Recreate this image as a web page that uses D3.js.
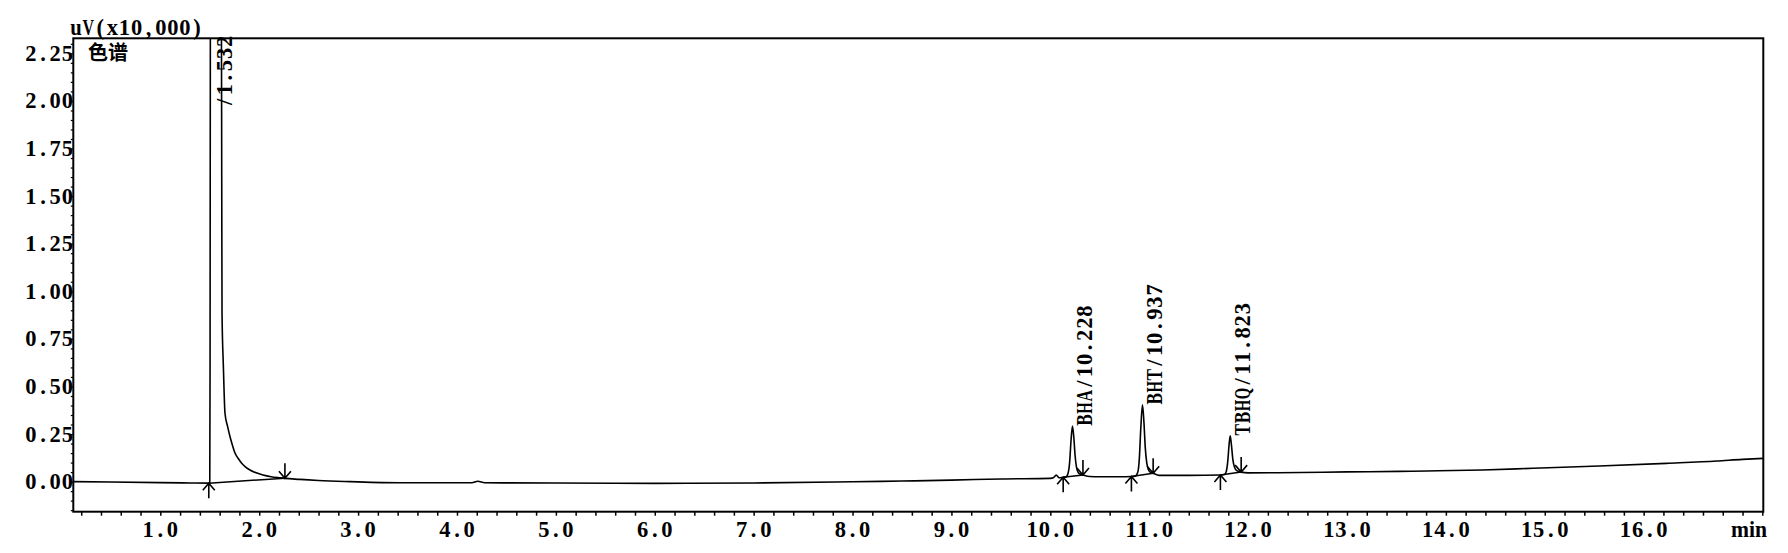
<!DOCTYPE html>
<html><head><meta charset="utf-8">
<script src="https://cdn.jsdelivr.net/npm/d3@7"></script>
<style>body{margin:0;background:#fff}svg{display:block}</style>
</head><body><svg id="c" width="1788" height="553"></svg>
<script>
// chromatogram trace (min, uV x10,000)
const times = [0.12,0.50,1.00,1.30,1.49,1.500,1.503,1.506,1.515,1.532,1.560,1.600,1.618,1.621,1.624,1.638,1.654,1.680,1.705,1.730,1.755,1.790,1.823,1.860,1.907,1.970,2.038,2.120,2.210,2.260,2.410,2.600,2.920,3.420,4.000,4.150,4.210,4.280,5.000,6.000,7.000,8.000,8.500,9.000,9.500,10.000,10.030,10.060,10.090,10.130,10.160,10.180,10.195,10.210,10.224,10.238,10.250,10.265,10.280,10.300,10.330,10.400,10.500,10.700,10.820,10.860,10.885,10.900,10.915,10.932,10.947,10.960,10.975,10.990,11.010,11.040,11.100,11.400,11.720,11.760,11.780,11.795,11.807,11.819,11.832,11.845,11.860,11.880,11.900,11.930,12.000,12.300,13.000,13.530,13.810,14.370,14.880,15.550,16.230,16.740,17.000,17.210];
const signal = [0.000,-0.002,-0.005,-0.007,-0.008,-0.006,0.6,2.4,2.8,3.0,2.9,2.6,2.4,1.6,0.886,0.60,0.359,0.29,0.236,0.19,0.150,0.12,0.096,0.078,0.061,0.046,0.035,0.026,0.020,0.017,0.012,0.006,0.000,-0.006,-0.006,-0.006,0.002,-0.006,-0.007,-0.009,-0.007,-0.001,0.003,0.008,0.014,0.017,0.020,0.034,0.020,0.023,0.025,0.045,0.10,0.22,0.292,0.23,0.14,0.075,0.05,0.04,0.035,0.027,0.026,0.026,0.027,0.029,0.05,0.12,0.28,0.403,0.31,0.18,0.10,0.065,0.05,0.044,0.033,0.033,0.035,0.037,0.055,0.11,0.19,0.241,0.19,0.12,0.08,0.06,0.055,0.05,0.046,0.047,0.051,0.054,0.056,0.061,0.070,0.082,0.096,0.108,0.117,0.122];

// peak table
const peakNames = ["", "BHA", "BHT", "TBHQ"];
const peakTimes = [1.532, 10.228, 10.937, 11.823];
const peakApex = [3.0, 0.292, 0.403, 0.241];
const startTimes = [1.49, 10.13, 10.82, 11.72];
const startValues = [-0.008, 0.023, 0.027, 0.035];
const endTimes = [2.26, 10.33, 11.04, 11.93];
const endValues = [0.018, 0.035, 0.044, 0.050];

// axis ticks
const xTickValues = [1,2,3,4,5,6,7,8,9,10,11,12,13,14,15,16];
const xTickLabels = ["1.0","2.0","3.0","4.0","5.0","6.0","7.0","8.0","9.0","10.0","11.0","12.0","13.0","14.0","15.0","16.0"];
const yTickValues = [0,0.25,0.5,0.75,1,1.25,1.5,1.75,2,2.25];
const yTickLabels = ["0.00","0.25","0.50","0.75","1.00","1.25","1.50","1.75","2.00","2.25"];

const L = 73.3, R = 1763.3, T = 38.3, B = 511.7;
const x = d3.scaleLinear().domain([0.12, 17.21]).range([L, R]);
const y = d3.scaleLinear().domain([-0.158, 2.329]).range([B, T]);

const svg = d3.select("#c");
const SERIF = "'Liberation Serif', 'DejaVu Serif', serif";
const ADV = 12.1, FS = 22.5, MAXW = 11.5;

// fixed-pitch text: each glyph centred in its own cell, wide glyphs narrowed
function mono(parent, str, x0, y0, align) {
  const n = str.length, w = n * ADV;
  const start = align === "end" ? x0 - w : align === "middle" ? x0 - w / 2 : x0;
  const t = parent.append("text").attr("y", y0)
    .attr("text-anchor", "middle")
    .attr("font-family", SERIF).attr("font-weight", "bold").attr("font-size", FS);
  str.split("").forEach((ch, i) => {
    const ts = t.append("tspan").attr("x", start + (i + 0.5) * ADV).text(ch);
    const len = ts.node().getComputedTextLength();
    if (len > MAXW) ts.attr("textLength", MAXW).attr("lengthAdjust", "spacingAndGlyphs");
  });
  return t;
}

svg.append("defs").append("clipPath").attr("id","clip")
  .append("rect").attr("x",L).attr("y",T).attr("width",R-L).attr("height",B-T);

// x ticks
const minorX = d3.range(1, 87).map(i => +(i*0.2).toFixed(1));
const xAxis = d3.axisBottom(x).tickValues(minorX).tickSize(4).tickFormat("");
const gx = svg.append("g").attr("transform",`translate(0,${B})`).call(xAxis);
gx.select(".domain").remove();
gx.selectAll(".tick line").attr("stroke","#000").attr("stroke-width",1.5);

const gxl = svg.append("g");
xTickValues.forEach((d,i) => mono(gxl, xTickLabels[i], x(d), 537, "middle"));

// y ticks
const minorY = d3.range(-3, 47).map(i => +(i*0.05).toFixed(2));
const yAxis = d3.axisLeft(y).tickValues(minorY).tickSize(2.5).tickFormat("");
const gy = svg.append("g").attr("transform",`translate(${L},0)`).call(yAxis);
gy.select(".domain").remove();
gy.selectAll(".tick line").attr("stroke","#000").attr("stroke-width",1.2);

const gyl = svg.append("g");
yTickValues.forEach((d,i) => mono(gyl, yTickLabels[i], L, y(d)+7.5, "end"));

// frame
svg.append("rect").attr("x",L).attr("y",T).attr("width",R-L).attr("height",B-T)
  .attr("fill","none").attr("stroke","#000").attr("stroke-width",2);

mono(svg, "uV(x10,000)", 70, 35, "start");
svg.append("text").attr("x",88).attr("y",60)
  .attr("font-family","'Noto Sans CJK SC', sans-serif").attr("font-weight","bold").attr("font-size",20)
  .text("色谱");
svg.append("text").attr("x",1731).attr("y",537)
  .attr("font-family", SERIF).attr("font-weight","bold").attr("font-size",FS)
  .attr("textLength", 36).attr("lengthAdjust","spacingAndGlyphs")
  .text("min");

// trace
const pts = times.map((t,i) => [t, signal[i]]);
const plot = svg.append("g").attr("clip-path","url(#clip)");
plot.append("path").datum(pts)
  .attr("fill","none").attr("stroke","#000").attr("stroke-width",1.6)
  .attr("stroke-linejoin","round")
  .attr("d", d3.line().x(d => x(d[0])).y(d => y(d[1])).curve(d3.curveMonotoneX));

// integration baselines
plot.append("g").selectAll("line").data(startTimes).join("line")
  .attr("x1",(d,i)=>x(d)).attr("y1",(d,i)=>y(startValues[i]))
  .attr("x2",(d,i)=>x(endTimes[i])).attr("y2",(d,i)=>y(endValues[i]))
  .attr("stroke","#000").attr("stroke-width",1.5);

// start (up) and end (down) arrows
const arr = svg.append("g").attr("fill","none").attr("stroke","#000").attr("stroke-width",1.6);
startTimes.forEach((t,i) => {
  const ax = x(t), ay = y(startValues[i]);
  arr.append("path").attr("d",`M${ax},${ay+15}L${ax},${ay}M${ax-6},${ay+7}L${ax},${ay}L${ax+6},${ay+7}`);
});
endTimes.forEach((t,i) => {
  const ax = x(t), ay = y(endValues[i]);
  arr.append("path").attr("d",`M${ax},${ay-15}L${ax},${ay}M${ax-6},${ay-7}L${ax},${ay}L${ax+6},${ay-7}`);
});

// peak labels
peakTimes.forEach((t,i) => {
  const txt = (peakNames[i] ? peakNames[i] : "") + "/" + t.toFixed(3);
  const clipped = peakApex[i] > y.domain()[1];
  const lx = x(t) + 19;
  const ly = clipped ? T - 3 : y(peakApex[i]);
  const g = svg.append("g").attr("transform",`translate(${lx},${ly}) rotate(-90)`);
  mono(g, txt, 0, 0, clipped ? "end" : "start");
});
</script></body></html>
